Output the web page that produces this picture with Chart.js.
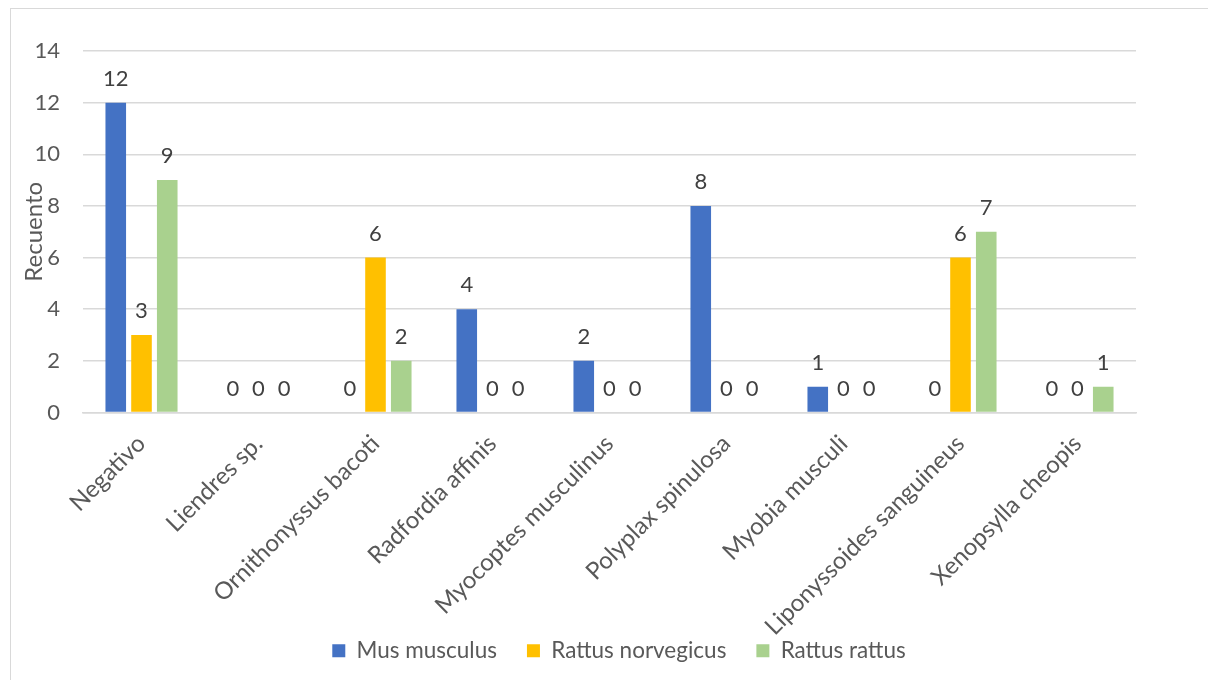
<!DOCTYPE html>
<html>
<head>
<meta charset="utf-8">
<script src="https://cdn.jsdelivr.net/npm/chart.js@4.4.1/dist/chart.umd.min.js"></script>
<style>
  html, body { margin: 0; padding: 0; background: #fff; }
  #marco { position: absolute; left: 10px; top: 8px; width: 1210px; height: 690px; border: 1px solid #d9d9d9; }
  #caja { position: absolute; left: 0; top: 0; width: 1208px; height: 680px; }
</style>
</head>
<body>
<div id="marco"></div>
<div id="caja"><canvas id="grafico"></canvas></div>
<script>
// categorias y valores
const categorias = ['Negativo', 'Liendres sp.', 'Ornithonyssus bacoti', 'Radfordia affinis',
  'Myocoptes musculinus', 'Polyplax spinulosa', 'Myobia musculi', 'Liponyssoides sanguineus', 'Xenopsylla cheopis'];
const musMusculus = [12, 0, 0, 4, 2, 8, 1, 0, 0];
const rattusNorvegicus = [3, 0, 6, 0, 0, 0, 0, 6, 0];
const rattusRattus = [9, 0, 2, 0, 0, 0, 0, 7, 1];
const ticksY = [0, 2, 4, 6, 8, 10, 12, 14];

const fuente = 'Lato, "Liberation Sans", sans-serif';

// etiquetas encima de cada barra
const etiquetas = {
  id: 'etiquetas',
  afterDatasetsDraw(chart) {
    const ctx = chart.ctx;
    ctx.save();
    ctx.font = '22px ' + fuente;
    ctx.fillStyle = '#404040';
    ctx.textAlign = 'center';
    ctx.textBaseline = 'alphabetic';
    chart.data.datasets.forEach((ds, i) => {
      chart.getDatasetMeta(i).data.forEach((bar, j) => {
        ctx.fillText(String(ds.data[j]), bar.x, bar.y - 17);
      });
    });
    ctx.restore();
  }
};

// la leyenda va un poco mas a la derecha
const moverLeyenda = {
  id: 'moverLeyenda',
  afterLayout(chart) {
    chart.legend.left += 41;
    chart.legend.right += 41;
  }
};

new Chart(document.getElementById('grafico'), {
  type: 'bar',
  data: {
    labels: categorias,
    datasets: [
      { label: 'Mus musculus', data: musMusculus, backgroundColor: '#4472c4' },
      { label: 'Rattus norvegicus', data: rattusNorvegicus, backgroundColor: '#ffc000' },
      { label: 'Rattus rattus', data: rattusRattus, backgroundColor: '#a9d18e' }
    ]
  },
  options: {
    responsive: true,
    maintainAspectRatio: false,
    animation: false,
    categoryPercentage: 0.66,
    barPercentage: 0.8,
    layout: { padding: { left: 20, right: 72, top: 51, bottom: 8 } },
    plugins: {
      tooltip: { enabled: false },
      legend: {
        position: 'bottom',
        labels: {
          boxWidth: 13, boxHeight: 13, padding: 30,
          color: '#595959',
          font: { family: fuente, size: 22.5 }
        }
      }
    },
    scales: {
      x: {
        grid: { display: false },
        border: { color: '#d9d9d9', width: 1.5 },
        afterFit(scale) { scale.height = 197; },
        // sin recorte de las etiquetas largas
        afterUpdate(scale) { scale._computeLabelArea = () => undefined; },
        ticks: {
          color: '#595959', minRotation: 45, maxRotation: 45, padding: 9,
          font: { family: fuente, size: 24 }
        }
      },
      y: {
        min: 0, max: 14,
        afterBuildTicks(axis) { axis.ticks = ticksY.map(v => ({ value: v })); },
        afterFit(scale) { scale.width = 63; },
        grid: { color: '#d9d9d9', lineWidth: 1.5, drawTicks: false },
        border: { display: false },
        title: { display: true, text: 'Recuento', color: '#595959', padding: 0, font: { family: fuente, size: 24 } },
        ticks: { color: '#595959', padding: 23, font: { family: fuente, size: 22 } }
      }
    }
  },
  plugins: [etiquetas, moverLeyenda]
});
</script>
</body>
</html>
